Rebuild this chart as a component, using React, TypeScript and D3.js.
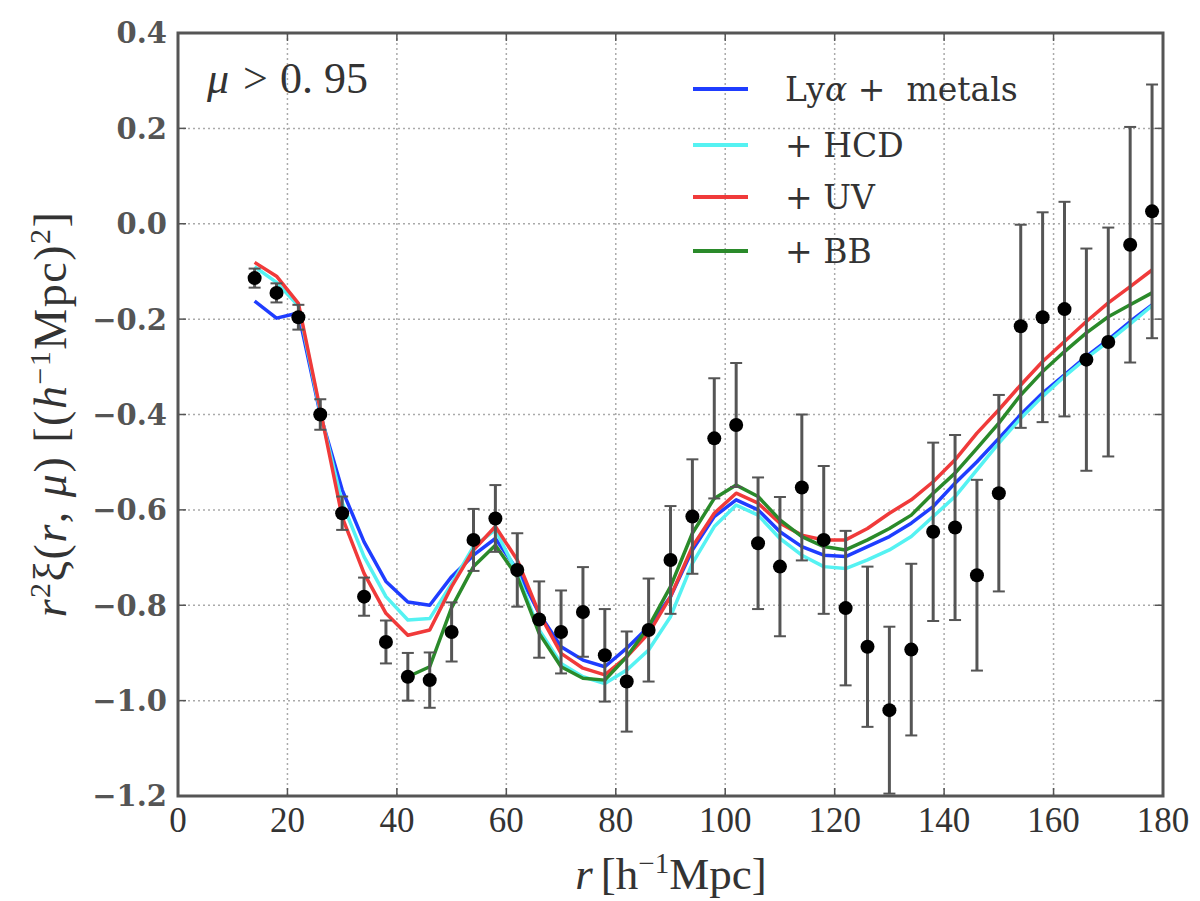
import React from 'react';
import * as d3 from 'd3';

const rValues = [14, 18, 22, 26, 30, 34, 38, 42, 46, 50, 54, 58, 62, 66, 70, 74, 78, 82, 86, 90, 94, 98, 102, 106, 110, 114, 118, 122, 126, 130, 134, 138, 142, 146, 150, 154, 158, 162, 166, 170, 174, 178];

const dataValues = [-0.114, -0.145, -0.196, -0.40, -0.607, -0.782, -0.877, -0.95, -0.957, -0.856, -0.663, -0.618, -0.726, -0.83, -0.856, -0.814, -0.905, -0.96, -0.852, -0.705, -0.614, -0.45, -0.422, -0.67, -0.719, -0.553, -0.663, -0.806, -0.887, -1.02, -0.893, -0.646, -0.637, -0.737, -0.565, -0.215, -0.196, -0.179, -0.285, -0.248, -0.044, 0.026];

const dataErrors = [0.02, 0.02, 0.026, 0.032, 0.035, 0.04, 0.045, 0.05, 0.058, 0.062, 0.065, 0.07, 0.077, 0.08, 0.087, 0.094, 0.097, 0.105, 0.108, 0.113, 0.12, 0.126, 0.13, 0.138, 0.146, 0.153, 0.155, 0.162, 0.168, 0.175, 0.18, 0.187, 0.194, 0.2, 0.206, 0.213, 0.22, 0.225, 0.233, 0.24, 0.247, 0.266];

const lyaMetals = [-0.162, -0.198, -0.187, -0.40, -0.558, -0.667, -0.75, -0.793, -0.80, -0.74, -0.695, -0.66, -0.726, -0.817, -0.887, -0.915, -0.929, -0.89, -0.845, -0.782, -0.684, -0.614, -0.579, -0.60, -0.646, -0.677, -0.695, -0.698, -0.677, -0.656, -0.628, -0.593, -0.544, -0.499, -0.45, -0.40, -0.355, -0.317, -0.278, -0.243, -0.205, -0.17];

const plusHCD = [-0.09, -0.123, -0.172, -0.395, -0.585, -0.698, -0.782, -0.831, -0.828, -0.755, -0.677, -0.642, -0.733, -0.852, -0.922, -0.95, -0.964, -0.936, -0.894, -0.824, -0.712, -0.635, -0.59, -0.611, -0.66, -0.695, -0.719, -0.723, -0.705, -0.684, -0.656, -0.614, -0.572, -0.516, -0.46, -0.408, -0.362, -0.32, -0.282, -0.247, -0.21, -0.172];

const plusUV = [-0.081, -0.11, -0.167, -0.39, -0.615, -0.733, -0.817, -0.863, -0.852, -0.761, -0.684, -0.635, -0.705, -0.817, -0.901, -0.932, -0.946, -0.908, -0.859, -0.782, -0.677, -0.607, -0.565, -0.586, -0.628, -0.653, -0.663, -0.663, -0.639, -0.607, -0.579, -0.541, -0.495, -0.439, -0.39, -0.338, -0.289, -0.247, -0.205, -0.166, -0.132, -0.097];

const bbR = [42, 46, 50, 54, 58, 62, 66, 70, 74, 78, 82, 86, 90, 94, 98, 102, 106, 110, 114, 118, 122, 126, 130, 134, 138, 142, 146, 150, 154, 158, 162, 166, 170, 174, 178];
const plusBB = [-0.95, -0.929, -0.805, -0.719, -0.674, -0.74, -0.859, -0.929, -0.953, -0.957, -0.908, -0.845, -0.761, -0.649, -0.576, -0.548, -0.572, -0.621, -0.656, -0.677, -0.684, -0.663, -0.639, -0.611, -0.565, -0.523, -0.471, -0.418, -0.359, -0.31, -0.268, -0.229, -0.195, -0.17, -0.145];

const xTicks = [0, 20, 40, 60, 80, 100, 120, 140, 160, 180];
const yTicks = [0.4, 0.2, 0.0, -0.2, -0.4, -0.6, -0.8, -1.0, -1.2];

const seriesColors = ['#1f3dff', '#55f2f2', '#f03a3a', '#2a8a2a'];

export default function App() {
  const W = 1200, H = 901;
  const L = 178, R = 1163, T = 33, B = 796;
  const x = d3.scaleLinear().domain([0, 180]).range([L, R]);
  const y = d3.scaleLinear().domain([-1.2, 0.4]).range([B, T]);
  const line = d3.line<[number, number]>().x(d => x(d[0])).y(d => y(d[1]));

  const series = [
    { r: rValues, v: lyaMetals, c: seriesColors[0] },
    { r: rValues, v: plusHCD, c: seriesColors[1] },
    { r: rValues, v: plusUV, c: seriesColors[2] },
    { r: bbR, v: plusBB, c: seriesColors[3] },
  ];

  const fmt = (v: number) => (v < 0 ? '\u2212' : '') + Math.abs(v).toFixed(1);
  const serif = '"Liberation Serif", serif';
  const dserif = '"DejaVu Serif", serif';

  const legend = [
    { label: 'lya', c: seriesColors[0] },
    { label: '+ HCD', c: seriesColors[1] },
    { label: '+ UV', c: seriesColors[2] },
    { label: '+ BB', c: seriesColors[3] },
  ];
  const legendY = [89, 145, 197, 251];

  return (
    <div style={{ position: 'absolute', left: 0, top: 0 }}>
      <svg width={W} height={H} style={{ display: 'block', background: '#fff' }}>
        <defs>
          <clipPath id="plotclip">
            <rect x={L} y={T} width={R - L} height={B - T} />
          </clipPath>
        </defs>
        <rect x={0} y={0} width={W} height={H} fill="#fff" />
        {/* grid */}
        {xTicks.slice(1, -1).map(t => (
          <line key={'gx' + t} x1={x(t)} x2={x(t)} y1={T} y2={B} stroke="#aaa" strokeWidth={1.5} strokeDasharray="2 3" />
        ))}
        {yTicks.slice(1, -1).map(t => (
          <line key={'gy' + t} x1={L} x2={R} y1={y(t)} y2={y(t)} stroke="#aaa" strokeWidth={1.5} strokeDasharray="2 3" />
        ))}
        {/* ticks inside */}
        {xTicks.map(t => (
          <g key={'tx' + t}>
            <line x1={x(t)} x2={x(t)} y1={B} y2={B - 8} stroke="#555" strokeWidth={1.5} />
            <line x1={x(t)} x2={x(t)} y1={T} y2={T + 8} stroke="#555" strokeWidth={1.5} />
            <text x={x(t)} y={832} textAnchor="middle" fontFamily={serif} fontSize={35} fill="#333">{t}</text>
          </g>
        ))}
        {yTicks.map(t => (
          <g key={'ty' + t}>
            <line x1={L} x2={L + 8} y1={y(t)} y2={y(t)} stroke="#555" strokeWidth={1.5} />
            <line x1={R} x2={R - 8} y1={y(t)} y2={y(t)} stroke="#555" strokeWidth={1.5} />
            <text x={167} y={y(t)} dy="0.36em" textAnchor="end" fontFamily={dserif} fontWeight="bold" fontSize={29} fill="#555">{fmt(t)}</text>
          </g>
        ))}
        <g clipPath="url(#plotclip)">
          {series.map((s, i) => (
            <path key={'s' + i} d={line(s.r.map((r, j) => [r, s.v[j]] as [number, number])) || ''} fill="none" stroke={s.c} strokeWidth={3.5} strokeLinejoin="round" />
          ))}
          {rValues.map((r, i) => (
            <g key={'e' + r}>
              <line x1={x(r)} x2={x(r)} y1={y(dataValues[i] - dataErrors[i])} y2={y(dataValues[i] + dataErrors[i])} stroke="#555" strokeWidth={3} />
              <line x1={x(r) - 6} x2={x(r) + 6} y1={y(dataValues[i] - dataErrors[i])} y2={y(dataValues[i] - dataErrors[i])} stroke="#555" strokeWidth={2} />
              <line x1={x(r) - 6} x2={x(r) + 6} y1={y(dataValues[i] + dataErrors[i])} y2={y(dataValues[i] + dataErrors[i])} stroke="#555" strokeWidth={2} />
              <circle cx={x(r)} cy={y(dataValues[i])} r={7} fill="#000" />
            </g>
          ))}
        </g>
        {/* frame */}
        <rect x={L} y={T} width={R - L} height={B - T} fill="none" stroke="#555" strokeWidth={3} />
        {/* annotation */}
        <text x={207} y={93} fontFamily={serif} fontSize={44} fill="#333">
          <tspan fontStyle="italic">μ</tspan>
          <tspan dx={14}>&gt;</tspan>
          <tspan dx={12}>0. 95</tspan>
        </text>
        {/* legend */}
        {legend.map((l, i) => (
          <g key={'lg' + i}>
            <line x1={693} x2={748} y1={legendY[i]} y2={legendY[i]} stroke={l.c} strokeWidth={4} />
            <text x={785} y={legendY[i] + 12} fontFamily={dserif} fontSize={33} fill="#333" style={{ whiteSpace: 'pre' }}>
              {l.label === 'lya' ? (
                <>
                  <tspan>Ly</tspan>
                  <tspan fontStyle="italic">α</tspan>
                  <tspan>{' +  metals'}</tspan>
                </>
              ) : l.label}
            </text>
          </g>
        ))}
        {/* x label */}
        <text x={671} y={889} textAnchor="middle" fontFamily={serif} fontSize={45} fill="#333">
          <tspan fontStyle="italic">r</tspan>
          <tspan dx={8}>[h</tspan>
          <tspan dy={-16} fontSize={29}>−1</tspan>
          <tspan dy={16}>Mpc]</tspan>
        </text>
        {/* y label */}
        <text transform={`translate(66,${414}) rotate(-90)`} textAnchor="middle" fontFamily={serif} fontSize={46} letterSpacing={1.5} fill="#333">
          <tspan fontStyle="italic">r</tspan>
          <tspan dy={-16} fontSize={30}>2</tspan>
          <tspan dy={16}>ξ(</tspan>
          <tspan fontStyle="italic">r</tspan>
          <tspan>, </tspan>
          <tspan fontStyle="italic">μ</tspan>
          <tspan>) [(</tspan>
          <tspan fontStyle="italic">h</tspan>
          <tspan dy={-16} fontSize={30}>−1</tspan>
          <tspan dy={16}>Mpc)</tspan>
          <tspan dy={-16} fontSize={30}>2</tspan>
          <tspan dy={16}>]</tspan>
        </text>
      </svg>
    </div>
  );
}
